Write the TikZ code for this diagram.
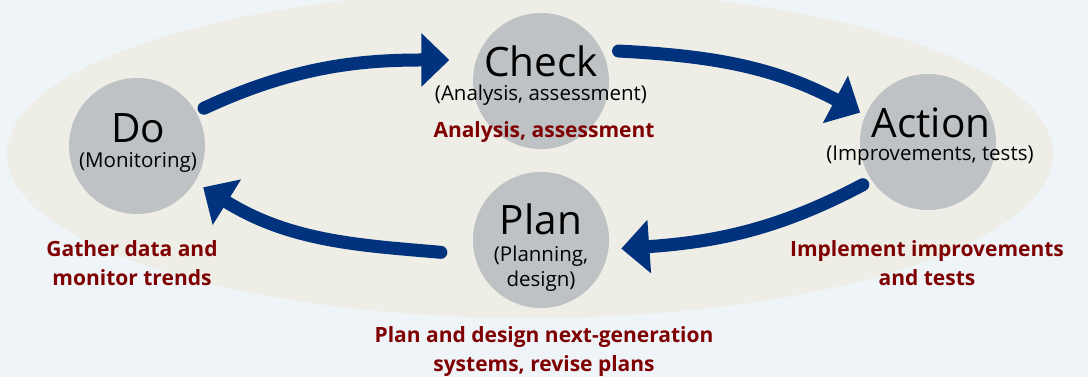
\documentclass[tikz,border=0pt]{standalone}
\usepackage{fontspec}
\setmainfont{Open Sans}
\usetikzlibrary{arrows.meta}
\definecolor{bg}{HTML}{EFF4F8}
\definecolor{ell}{HTML}{EEEDE6}
\definecolor{circ}{HTML}{BEC2C5}
\definecolor{arr}{HTML}{00327D}
\definecolor{lab}{HTML}{7F0000}
\begin{document}
\begin{tikzpicture}[x=1pt,y=1pt,
 stage/.style={circle, fill=circ, minimum size=136pt, inner sep=0pt, outer sep=0pt},
 big/.style={font=\fontsize{40.5}{40}\selectfont, inner sep=0pt},
 sub/.style={font=\fontsize{20.5}{25}\selectfont, inner sep=0pt, align=center},
 note/.style={font=\fontsize{21}{29}\selectfont\bfseries, text=lab, align=center, inner sep=0pt},
 flow/.style={draw=arr, line width=13pt, line cap=round, -{Triangle[length=28pt,width=52pt]}}]
\fill[bg] (0,0) rectangle (1088,-377);
\useasboundingbox (0,0) rectangle (1088,-377);
\fill[ell] (530,-154) ellipse [x radius=523, y radius=164];
% circles
\node[stage] (do) at (137,-146) {};
\node[stage] (check) at (541,-81) {};
\node[stage] (action) at (928,-142) {};
\node[stage] (plan) at (541,-240) {};
% titles
\node[big] (dot) at (138,-128) {Do};
\node[sub] (dos) at (138,-162) {(Monitoring)};
\node[big] (checkt) at (541,-61) {Check};
\node[sub] (checks) at (541,-95) {(Analysis, assessment)};
\node[big] (actiont) at (931,-123) {Action};
\node[sub] (actions) at (930,-156) {(Improvements, tests)};
\node[big] (plant) at (541,-219) {Plan};
\node[sub] (plans) at (541,-269) {(Planning,\\design)};
% notes
\node[note] (checkn) at (544,-132) {Analysis, assessment};
\node[note] (don) at (132,-263) {Gather data and\\monitor trends};
\node[note] (actionn) at (927,-263) {Implement improvements\\and tests};
\node[note] (plann) at (544,-352) {Plan and design next-generation\\systems, revise plans};
% arrows
\draw[flow, shorten <=9pt, shorten >=27pt] (do.30) to[out=25,in=180] (check.162);
\draw[flow, shorten <=17pt, shorten >=6pt] (check.27) to[out=-3,in=152] (action.157);
\draw[flow, shorten <=10pt, shorten >=13pt] (action.214) to[out=208,in=4] (plan.-8);
\draw[flow, shorten <=34pt, shorten >=10pt] (plan.193) to[out=175,in=-32] (do.-32);
\end{tikzpicture}
\end{document}
